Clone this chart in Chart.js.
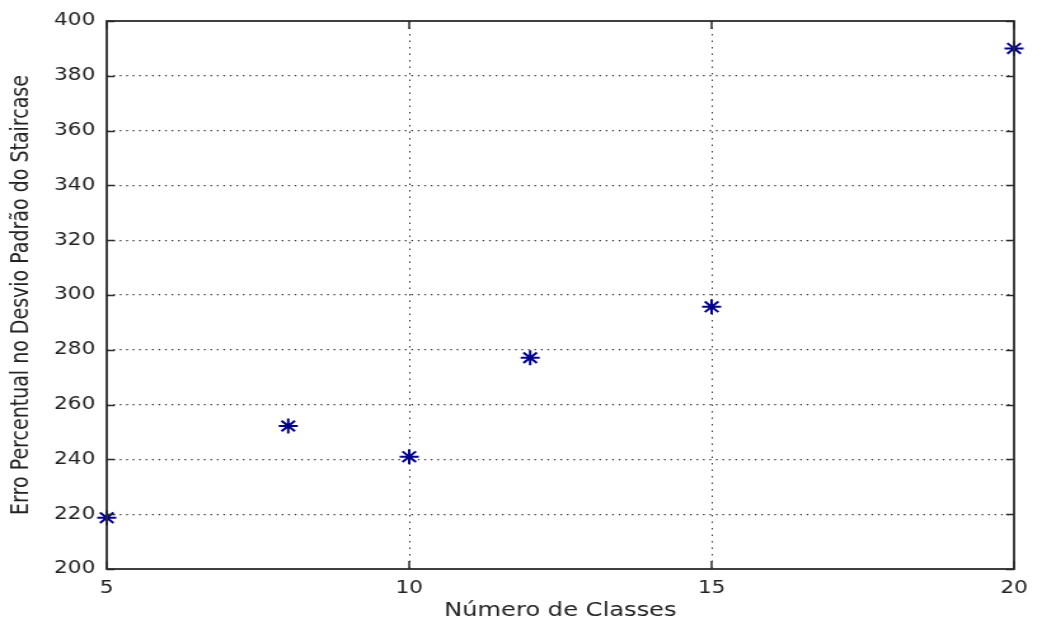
<!DOCTYPE html>
<html>
<head>
<meta charset="utf-8">
<script src="https://cdn.jsdelivr.net/npm/chart.js@4/dist/chart.umd.min.js"></script>
<style>
  html, body { margin: 0; padding: 0; background: #fff; }
  /* figure is drawn narrow and widened on screen, like the exported plot */
  #classesChart { display: block; width: 1042px !important; height: 625px !important; }
</style>
</head>
<body>
<canvas id="classesChart" width="820" height="625" style="width:1042px;height:625px"></canvas>
<script>
const numClasses = [5, 8, 10, 12, 15, 20];
const erroPercentual = [218.7, 252.2, 241.0, 277.1, 295.7, 390.0];
const xTicks = [5, 10, 15, 20];
const yTicks = [200, 220, 240, 260, 280, 300, 320, 340, 360, 380, 400];

const fontFamily = '"DejaVu Sans", "Liberation Sans", sans-serif';

// matlab style frame: box around the axes plus short inward tick marks
const frameTicks = {
    id: 'frameTicks',
    afterDraw(chart) {
        const { ctx, chartArea: a, scales: { x, y } } = chart;
        const lenH = 6.3, lenV = 8;
        ctx.save();
        ctx.strokeStyle = '#2b2b2b';
        ctx.lineWidth = 1.5;
        ctx.beginPath();
        yTicks.forEach(v => {
            const py = Math.round(y.getPixelForValue(v)) + 0.5;
            ctx.moveTo(a.left, py); ctx.lineTo(a.left + lenH, py);
            ctx.moveTo(a.right, py); ctx.lineTo(a.right - lenH, py);
        });
        xTicks.forEach(v => {
            const px = x.getPixelForValue(v);
            ctx.moveTo(px, a.bottom); ctx.lineTo(px, a.bottom - lenV);
            ctx.moveTo(px, a.top); ctx.lineTo(px, a.top + lenV);
        });
        ctx.stroke();
        ctx.lineWidth = 1.8;
        ctx.strokeRect(a.left, a.top, a.right - a.left, a.bottom - a.top);
        ctx.restore();
    }
};

const ctx = document.getElementById('classesChart').getContext('2d');
new Chart(ctx, {
    type: 'scatter',
    data: {
        datasets: [{
            data: numClasses.map((c, i) => ({ x: c, y: erroPercentual[i] })),
            pointStyle: 'star',
            pointRadius: 7.5,
            pointBorderWidth: 2,
            borderColor: '#00008b',
            backgroundColor: '#00008b',
            clip: false
        }]
    },
    options: {
        responsive: false,
        animation: false,
        devicePixelRatio: 1,
        layout: { padding: { top: 21, right: 22, bottom: 0, left: 0 } },
        plugins: { legend: { display: false }, tooltip: { enabled: false } },
        scales: {
            x: {
                type: 'linear',
                min: 5,
                max: 20,
                afterBuildTicks: s => { s.ticks = xTicks.map(v => ({ value: v })); },
                afterFit: s => { s.height = 56; },
                grid: {
                    color: ctx => (ctx.tick && (ctx.tick.value === 5 || ctx.tick.value === 20)) ? 'rgba(0,0,0,0)' : '#333',
                    lineWidth: 1,
                    drawTicks: false
                },
                border: { display: false, dash: [1.5, 5] },
                ticks: {
                    color: '#222',
                    padding: 9,
                    maxRotation: 0,
                    font: { family: fontFamily, size: 17 }
                },
                title: {
                    display: true,
                    text: 'Número de Classes',
                    color: '#222',
                    padding: { top: 0, bottom: 3 },
                    font: { family: fontFamily, size: 19 }
                }
            },
            y: {
                min: 200,
                max: 400,
                afterBuildTicks: s => { s.ticks = yTicks.map(v => ({ value: v })); },
                afterFit: s => { s.width = 84; },
                grid: {
                    color: ctx => (ctx.tick && (ctx.tick.value === 200 || ctx.tick.value === 400)) ? 'rgba(0,0,0,0)' : '#333',
                    lineWidth: 1.2,
                    drawTicks: false
                },
                border: { display: false, dash: [1.3, 3.8] },
                ticks: {
                    color: '#222',
                    padding: 9,
                    font: { family: fontFamily, size: 17 }
                },
                title: {
                    display: true,
                    text: 'Erro Percentual no Desvio Padrão do Staircase',
                    color: '#222',
                    padding: { top: 6, bottom: 0 },
                    font: { family: fontFamily, size: 19 }
                }
            }
        }
    },
    plugins: [frameTicks]
});
</script>
</body>
</html>
